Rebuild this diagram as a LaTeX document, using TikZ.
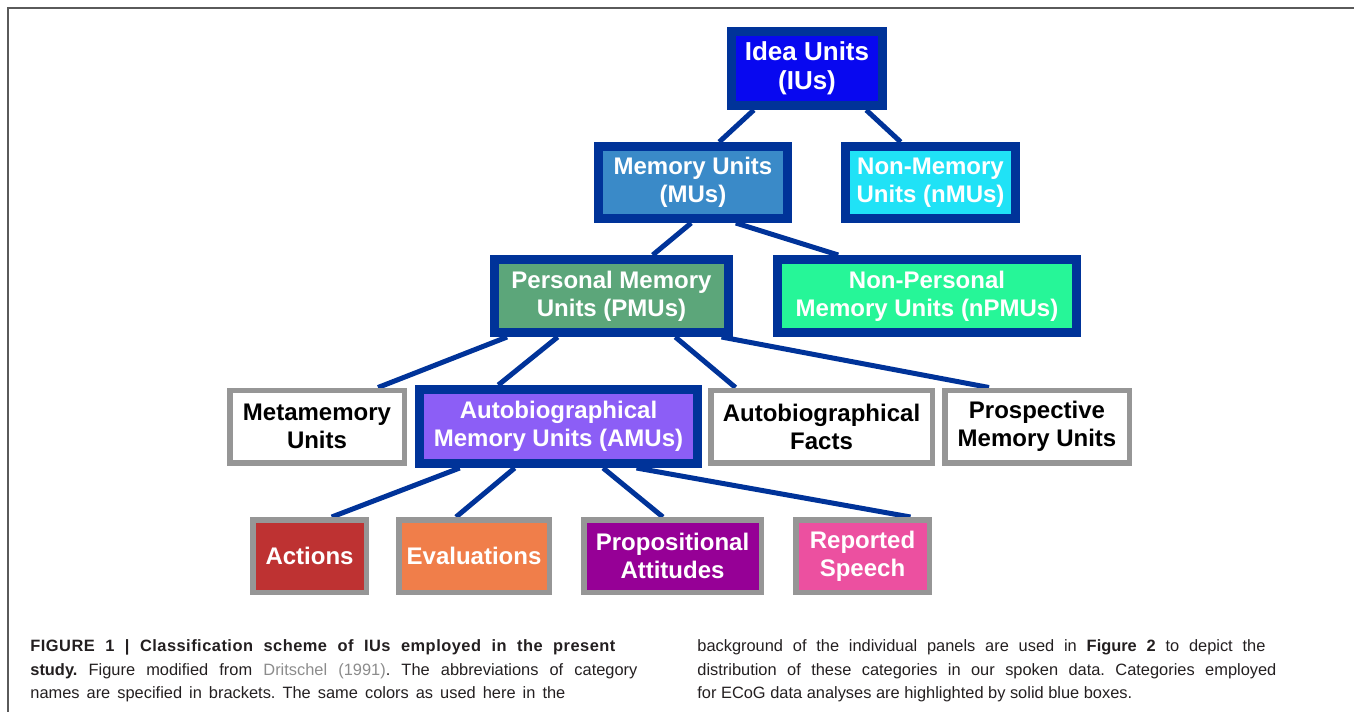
\documentclass[tikz,border=0pt]{standalone}
\usepackage{fontspec}
\setmainfont{Liberation Sans}
\usetikzlibrary{backgrounds}

\definecolor{navy}{RGB}{0,51,153}
\definecolor{boxgray}{RGB}{150,150,150}
\definecolor{framegray}{RGB}{90,90,90}
\definecolor{captext}{RGB}{35,31,32}
\definecolor{citegray}{RGB}{140,140,140}
\definecolor{iublue}{RGB}{8,8,240}
\definecolor{mublue}{RGB}{58,138,200}
\definecolor{nmucyan}{RGB}{32,226,246}
\definecolor{pmugreen}{RGB}{92,166,122}
\definecolor{npmugreen}{RGB}{38,246,152}
\definecolor{amupurple}{RGB}{140,94,246}
\definecolor{actred}{RGB}{190,50,50}
\definecolor{evalorange}{RGB}{240,126,74}
\definecolor{proppurple}{RGB}{150,0,150}
\definecolor{reppink}{RGB}{236,80,160}

\begin{document}
\frenchspacing
\begin{tikzpicture}[x=0.5pt,y=-0.5pt,
  unitbox/.style={draw=navy,line width=4.5pt,inner sep=0pt,align=center,
    text=white,font=\bfseries\fontsize{12}{14}\selectfont},
  graybox/.style={draw=boxgray,line width=2.75pt,inner sep=0pt,align=center,
    font=\bfseries\fontsize{12}{14}\selectfont},
  leafbox/.style={graybox,text=white,minimum height=36.25pt},
  link/.style={draw=navy,line width=2.5pt},
  captline/.style={anchor=base west,inner sep=0pt,text=captext,
    font=\fontsize{8.2}{10}\selectfont}]

\useasboundingbox (0,0) rectangle (1354,712);
\draw[framegray,line width=1pt] (1354,8) -- (8,8) -- (8,712); %% frame

%% level 0 and 1
\node[unitbox,fill=iublue,minimum width=75.5pt,minimum height=37pt,
  font=\bfseries\fontsize{13}{14.5}\selectfont] (iu) at (807,68.5) {Idea Units\\(IUs)};
\node[unitbox,fill=mublue,minimum width=94.5pt,minimum height=36pt]
  (mu) at (693,182.5) {Memory Units\\(MUs)};
\node[unitbox,fill=nmucyan,minimum width=85pt,minimum height=36pt]
  (nmu) at (930.5,182.5) {Non-Memory\\Units (nMUs)};

%% level 2
\node[unitbox,fill=pmugreen,minimum width=117pt,minimum height=36.5pt]
  (pmu) at (611.5,296) {Personal Memory\\Units (PMUs)};
\node[unitbox,fill=npmugreen,minimum width=149.5pt,minimum height=36.5pt]
  (npmu) at (927,296) {Non-Personal\\Memory Units (nPMUs)};

%% level 3
\node[graybox,fill=white,minimum width=87.25pt,minimum height=36.25pt]
  (meta) at (317,426.5) {Metamemory\\Units};
\node[unitbox,fill=amupurple,minimum width=139pt,minimum height=37pt]
  (amu) at (558.5,426.5) {Autobiographical\\Memory Units (AMUs)};
\node[graybox,fill=white,minimum width=110.75pt,minimum height=36.25pt]
  (facts) at (821.5,426.5) {Autobiographical\\Facts};
\node[graybox,fill=white,minimum width=92.25pt,minimum height=36.25pt]
  (prosp) at (1037,426.5) {Prospective\\Memory Units};

%% level 4
\node[leafbox,fill=actred,minimum width=56.75pt] (act) at (309.5,556) {Actions};
\node[leafbox,fill=evalorange,minimum width=75.25pt] (eval) at (474,556) {Evaluations};
\node[leafbox,fill=proppurple,minimum width=88.75pt] (prop) at (672.5,556) {Propositional\\Attitudes};
\node[leafbox,fill=reppink,minimum width=66.75pt] (rep) at (862.5,556) {Reported\\Speech};

%% connectors
\begin{scope}[on background layer]
\draw[link] ([xshift=-26.6pt]iu.south) -- ([xshift=13.1pt]mu.north);
\draw[link] ([xshift=29.6pt]iu.south) -- ([xshift=-14.9pt]nmu.north);
\draw[link] ([xshift=-0.9pt]mu.south) -- ([xshift=20.6pt]pmu.north);
\draw[link] ([xshift=21.4pt]mu.south) -- ([xshift=-44.4pt]npmu.north);
\draw[link] ([xshift=-52.2pt]pmu.south) -- ([xshift=30.5pt]meta.north);
\draw[link] ([xshift=-26.9pt]pmu.south) -- ([xshift=-30.1pt]amu.north);
\draw[link] ([xshift=31.9pt]pmu.south) -- ([xshift=-43pt]facts.north);
\draw[link] ([xshift=55pt]pmu.south) -- ([xshift=-24pt]prosp.north);
\draw[link] ([xshift=-49.4pt]amu.south) -- ([xshift=11.1pt]act.north);
\draw[link] ([xshift=-21.9pt]amu.south) -- ([xshift=-9pt]eval.north);
\draw[link] ([xshift=22.3pt]amu.south) -- ([xshift=-4.8pt]prop.north);
\draw[link] ([xshift=39pt]amu.south) -- ([xshift=24pt]rep.north);
\end{scope}

%% caption
\node[captline] (cap1) at (30,651) {\makebox[292.5pt][s]{\bfseries\addfontfeature{LetterSpace=3}%
  FIGURE 1 | Classification scheme of IUs employed in the present}};
\node[captline] (cap2) at (30,675) {\makebox[303.5pt][s]{\textbf{study.}
  Figure modified from \textcolor{citegray}{Dritschel (1991)}. The abbreviations of category}};
\node[captline] (cap3) at (30,698) {\makebox[267.5pt][s]{names
  are specified in brackets. The same colors as used here in the}};
\node[captline] (cap4) at (697,651) {\makebox[284pt][s]{background
  of the individual panels are used in \textbf{Figure 2} to depict the}};
\node[captline] (cap5) at (697,675) {\makebox[289.5pt][s]{distribution
  of these categories in our spoken data. Categories employed}};
\node[captline] (cap6) at (697,698) {for ECoG data analyses are highlighted by solid blue boxes.};

\end{tikzpicture}
\end{document}
